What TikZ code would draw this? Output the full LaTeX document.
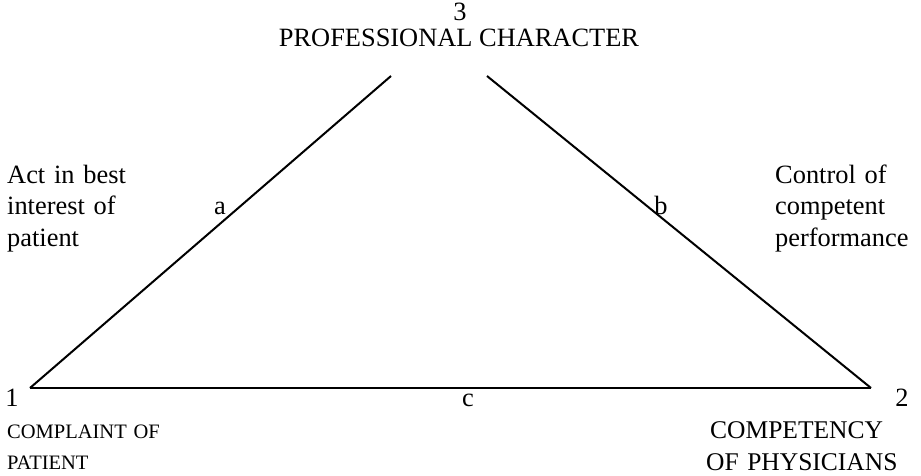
\documentclass[tikz,border=0pt]{standalone}
\usepackage{fontspec}
\setmainfont{Liberation Serif}
\begin{document}
\begin{tikzpicture}[x=1pt,y=-1pt,
  big/.style={font=\fontsize{26.4}{31.5}\selectfont,inner sep=0pt},
  mid/.style={font=\fontsize{25.5}{32}\selectfont,inner sep=0pt},
  small/.style={font=\fontsize{20.5}{31.5}\selectfont,inner sep=0pt},
  side/.style={line width=2pt,black}]
\useasboundingbox (0,0) rectangle (921,476);
\coordinate (v1) at (30,388);
\coordinate (v2) at (871,388);
\coordinate (t1) at (391,76);
\coordinate (t2) at (487,76);
\draw[side] (v1) -- (t1);
\draw[side] (t2) -- (v2);
\draw[side] (v1) -- (v2);
\node[big,anchor=base] (n3) at (460,21) {3};
\node[big,anchor=base] (pc) at (459,47) {PROFESSIONAL CHARACTER};
\node[big,anchor=base west,text width=150pt,align=left] (act) at (7,183) {Act in best\\interest of\\patient};
\node[big,anchor=base west,text width=150pt,align=left] (ctl) at (775,183) {Control of\\competent\\performance};
\node[big,anchor=base] (a) at (220,214.5) {a};
\node[big,anchor=base] (b) at (661,214.5) {b};
\node[big,anchor=base] (c) at (468,406) {c};
\node[big,anchor=base] (n1) at (12,406) {1};
\node[big,anchor=base] (n2) at (902,406) {2};
\node[small,anchor=base west,text width=200pt,align=left] (cp) at (7,438) {COMPLAINT OF\\PATIENT};
\node[mid,anchor=base west,text width=210pt,align=left] (cph) at (706,438) {\hspace{4pt}COMPETENCY\\OF PHYSICIANS};
\end{tikzpicture}
\end{document}
